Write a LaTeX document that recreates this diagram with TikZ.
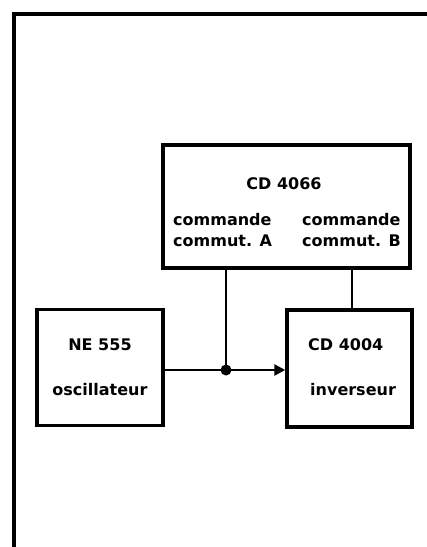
\documentclass[tikz,border=0pt]{standalone}
\usepackage{fontspec}
\setmainfont{DejaVu Sans}
\usetikzlibrary{arrows.meta}

\begin{document}
\begin{tikzpicture}[x=1pt, y=-1pt, >={Triangle[length=11pt,width=11pt]},
    bloc/.style={draw, line width=3.5pt, minimum width=#1, inner sep=0pt},
    txt/.style={font=\bfseries\fontsize{16}{21}\selectfont, inner sep=0pt},
    fil/.style={line width=2.6pt}]
    \useasboundingbox (0,0) rectangle (427,547);
    % Cadre
    \draw[line width=4pt] (14,547) -- (14,14) -- (427,14);
    % Blocs
    \node[bloc=247pt, minimum height=123pt] (cd4066) at (286.5,206.5) {};
    \node[bloc=126pt, minimum height=116pt] (ne555) at (100,367.5) {};
    \node[bloc=125pt, minimum height=117pt] (cd4004) at (349.5,368.5) {};
    % Textes
    \node[txt] (t4066) at (284,184) {CD 4066};
    \node[txt, anchor=west, align=left] (cmdA) at (173,230) {commande\\commut. A};
    \node[txt, anchor=west, align=left] (cmdB) at (302,230) {commande\\commut. B};
    \node[txt] (t555) at (100,345) {NE 555};
    \node[txt] (osc) at (100,390) {oscillateur};
    \node[txt, anchor=west] (t4004) at (308,345) {CD 4004};
    \node[txt, anchor=west] (inv) at (310,390) {inverseur};
    % Liaisons
    \coordinate (j) at (226,370);
    \coordinate (b) at (352,310);
    \draw[fil] (ne555.east |- j) -- (j);
    \draw[fil, ->] (j) -- (cd4004.west |- j);
    \draw[fil] (j) -- (j |- cd4066.south);
    \draw[fil] (b |- cd4004.north) -- (b |- cd4066.south);
    \fill (j) circle (5.5pt);
\end{tikzpicture}
\end{document}
